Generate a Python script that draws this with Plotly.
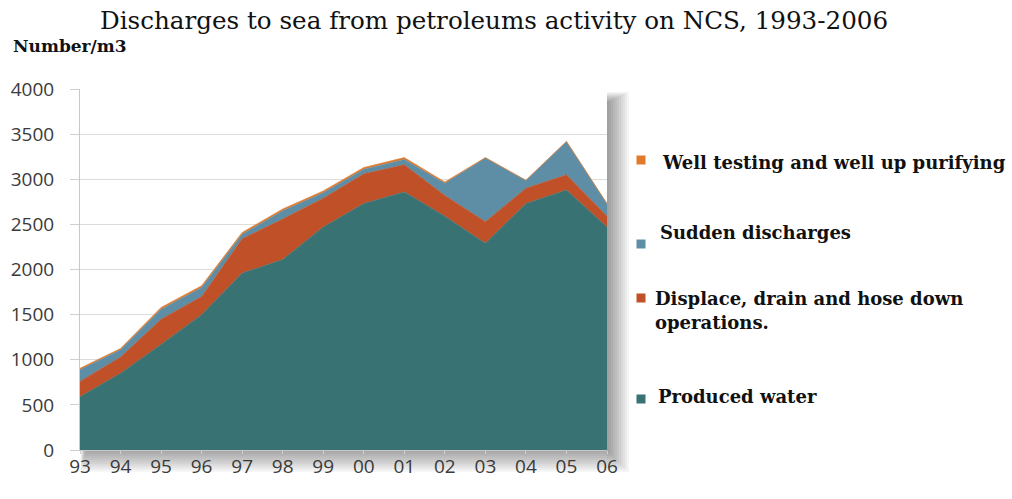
import plotly.graph_objects as go

# Discharges to sea, NCS 1993-2006 (Number/m3), stacked by source
years = ["93", "94", "95", "96", "97", "98", "99", "00", "01", "02", "03", "04", "05", "06"]
produced_water = [590, 850, 1170, 1500, 1960, 2110, 2470, 2730, 2860, 2590, 2290, 2730, 2880, 2470]
displace_drain = [170, 180, 280, 200, 380, 450, 320, 330, 300, 230, 240, 170, 170, 120]
sudden_discharges = [130, 80, 110, 100, 50, 90, 60, 50, 60, 135, 705, 85, 365, 135]
well_testing = [15, 15, 20, 20, 20, 20, 20, 20, 20, 15, 5, 5, 5, 5]

series = [
    ("Produced water", produced_water, "rgb(57,114,114)"),
    ("Displace, drain and hose down operations.", displace_drain, "rgb(192,80,40)"),
    ("Sudden discharges", sudden_discharges, "rgb(94,142,166)"),
    ("Well testing and well up purifying", well_testing, "rgb(226,122,44)"),
]

W, H = 1012, 499
L, R, T, B = 80, 607, 89, 450  # plot area in pixels


def px(x):
    return (x - L) / (R - L)


def py(y):
    return (B - y) / (B - T)


fig = go.Figure()
for name, vals, col in series:
    fig.add_trace(go.Scatter(
        x=years, y=vals, name=name, stackgroup="one", mode="lines",
        line=dict(width=0.6, color=col), fillcolor=col, showlegend=False,
    ))

shapes = []
# soft drop shadow to the right and below the plot panel
for i in range(1, 12):
    shapes.append(dict(type="rect", xref="paper", yref="paper",
                       x0=1, x1=px(R + 2 * i), y0=py(B + 2 * i), y1=py(T + 14 - i),
                       fillcolor="rgba(0,0,0,0.04)", line=dict(width=0), layer="below"))
    shapes.append(dict(type="rect", xref="paper", yref="paper",
                       x0=px(L + 6 - i * 0.5), x1=1, y0=py(B + 2 * i), y1=0,
                       fillcolor="rgba(0,0,0,0.035)", line=dict(width=0), layer="below"))

annotations = [
    dict(text="Discharges to sea from petroleums activity on NCS, 1993-2006",
         xref="paper", yref="paper", x=px(494), y=py(20), xanchor="center", yanchor="middle",
         showarrow=False, font=dict(family="DejaVu Serif", size=24.6, color="#111")),
    dict(text="<b>Number/m3</b>", xref="paper", yref="paper", x=px(11), y=py(46),
         xanchor="left", yanchor="middle", showarrow=False,
         font=dict(family="DejaVu Serif", size=17, color="#111")),
]

legend_items = [
    ("Well testing and well up purifying", series[3][2], 160, [(660, 162)]),
    ("Sudden discharges", series[2][2], 244, [(658, 232)]),
    ("Displace, drain and hose down", series[1][2], 298, [(653, 298)]),
    ("operations.", None, None, [(653, 322)]),
    ("Produced water", series[0][2], 399, [(656, 396)]),
]
for text, col, sq_y, pos in legend_items:
    if col is not None:
        shapes.append(dict(type="rect", xref="paper", yref="paper",
                           x0=px(636.5), x1=px(645.5), y0=py(sq_y + 4.5), y1=py(sq_y - 4.5),
                           fillcolor=col, line=dict(width=0)))
    for (tx, ty) in pos:
        annotations.append(dict(text="<b>" + text + "</b>", xref="paper", yref="paper",
                                x=px(tx), y=py(ty), xanchor="left", yanchor="middle",
                                showarrow=False,
                                font=dict(family="DejaVu Serif", size=18, color="#111")))

fig.update_layout(
    width=W, height=H,
    margin=dict(l=L, r=W - R, t=T, b=H - B, pad=0),
    paper_bgcolor="white", plot_bgcolor="white",
    shapes=shapes, annotations=annotations,
    font=dict(family="Open Sans", size=19, color="#3a3a3a"),
    xaxis=dict(range=[0, 13], showgrid=False, ticks="outside", ticklen=3,
               tickcolor="#d0d0d0", showline=True, linecolor="#c8c8c8",
               tickfont=dict(size=19), ticklabelstandoff=-4),
    yaxis=dict(range=[0, 4000], tickvals=[0, 500, 1000, 1500, 2000, 2500, 3000, 3500, 4000],
               showgrid=True, gridcolor="#dcdcdc", gridwidth=1.2,
               ticks="outside", ticklen=9, tickcolor="#d0d0d0",
               showline=True, linecolor="#c8c8c8", zeroline=False,
               tickfont=dict(size=19), ticklabelstandoff=12),
)

fig.write_html("out.html")
